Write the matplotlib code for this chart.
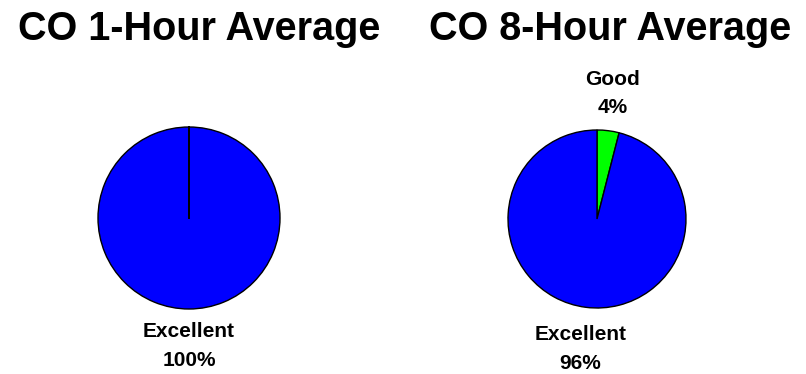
import matplotlib.pyplot as plt
import numpy as np

plt.rcParams['font.family'] = ['Liberation Sans', 'DejaVu Sans']

# category shares per averaging period (percent)
categories = ['Good', 'Excellent']
one_hour = [0, 100]
eight_hour = [4, 96]
titles = ['CO 1-Hour Average', 'CO 8-Hour Average']
colors = ['#00ff00', '#0000ff']

W, H = 806, 374
fig = plt.figure(figsize=(W / 100, H / 100), dpi=100)


def pie_axes(cx, cy, r):
    # pie() uses limits of +-1.25, so make a square box 2.5 radii wide
    side = 2.5 * r
    return fig.add_axes([(cx - side / 2) / W, (H - cy - side / 2) / H,
                         side / W, side / H])


def draw_pie(ax, values, label_dists):
    wedges, _ = ax.pie(values, colors=colors, startangle=90, counterclock=False,
                       wedgeprops=dict(edgecolor='black', linewidth=1.0))
    for w, name, v, d in zip(wedges, categories, values, label_dists):
        if v == 0:
            # empty slice: only its radial border shows
            a = np.deg2rad(w.theta1)
            ax.plot([0, np.cos(a)], [0, np.sin(a)], color='black', lw=1.4)
            continue
        mid = np.deg2rad((w.theta1 + w.theta2) / 2)
        ax.text(d * np.cos(mid), d * np.sin(mid),
                f'{name}\n{v}%', ha='center', va='center', fontsize=15,
                fontweight='bold', linespacing=1.65, clip_on=False)


ax1 = pie_axes(189, 218, 91)
draw_pie(ax1, one_hour, [1.41, 1.41])

ax2 = pie_axes(597, 219, 89)
draw_pie(ax2, eight_hour, [1.42, 1.47])

for x, t in zip([199, 610], titles):
    fig.text(x / W, (H - 40) / H, t, ha='center', va='baseline',
             fontsize=28.5, fontweight='bold')

fig.savefig('out.png', dpi=100)
